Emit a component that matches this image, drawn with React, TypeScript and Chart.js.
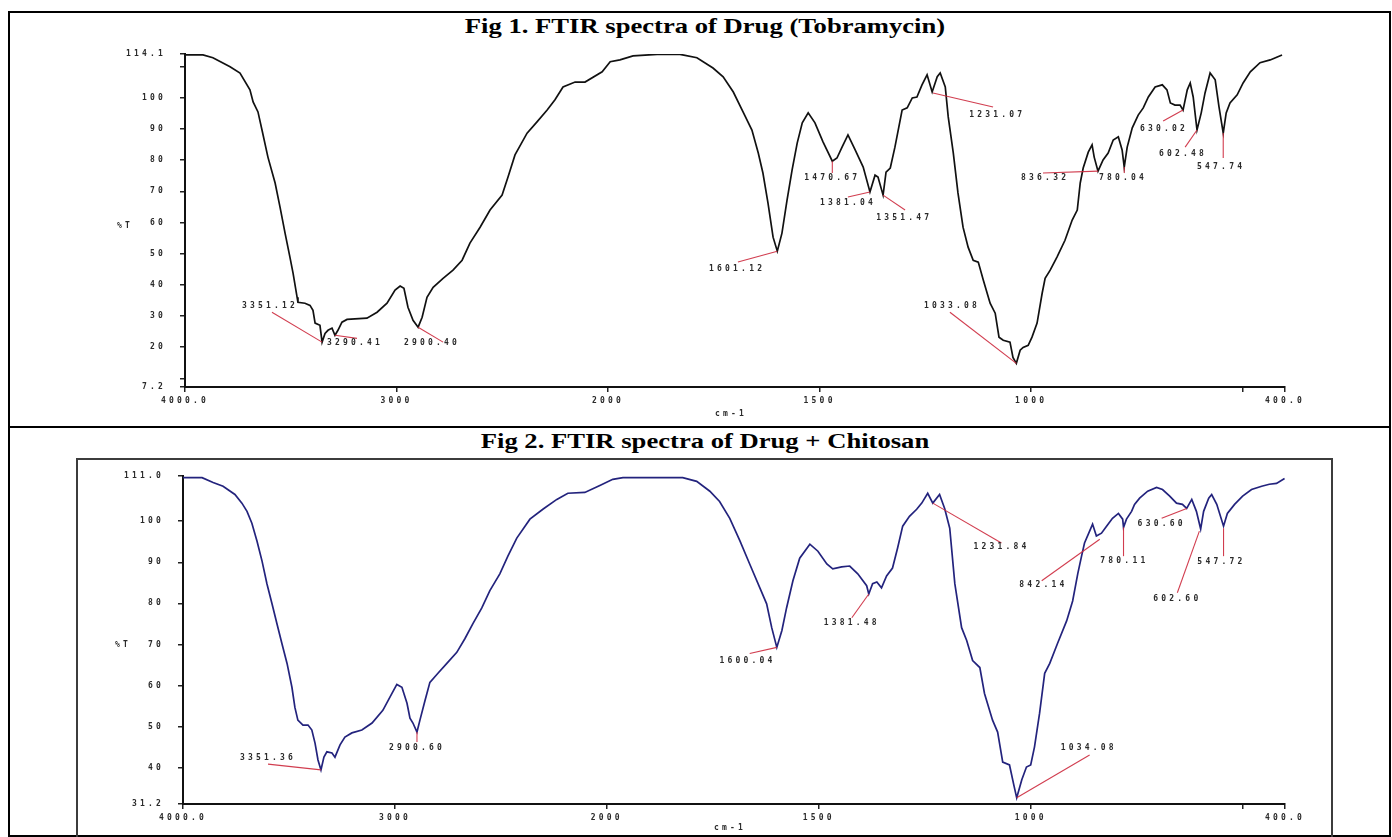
import React, { useEffect, useRef } from "react";
import { Chart, registerables } from "chart.js";

Chart.register(...registerables);

// ---------------- DATA ----------------
const fig1Wavenumber = [
  4000, 3915, 3868, 3787, 3740, 3693, 3678, 3655, 3636, 3608,
  3574, 3551, 3527, 3504, 3489, 3470, 3466, 3433, 3409, 3395,
  3385, 3362, 3352, 3338, 3324, 3305, 3291, 3277, 3258, 3234,
  3140, 3092, 3045, 3007, 2983, 2965, 2946, 2922, 2898, 2879,
  2856, 2827, 2780, 2733, 2690, 2653, 2605, 2558, 2501, 2473,
  2440, 2383, 2336, 2288, 2251, 2213, 2156, 2109, 2028, 1995,
  1972, 1941, 1884, 1830, 1790, 1752, 1728, 1704, 1681, 1660,
  1645, 1634, 1622, 1610, 1600, 1589, 1577, 1565, 1553, 1541,
  1527, 1511, 1492, 1470, 1459, 1447, 1433, 1416, 1397, 1381,
  1369, 1362, 1350, 1343, 1333, 1322, 1305, 1293, 1281, 1270,
  1258, 1246, 1234, 1222, 1215, 1203, 1196, 1184, 1173, 1161,
  1149, 1137, 1125, 1113, 1097, 1085, 1076, 1066, 1050, 1043,
  1035, 1026, 1019, 1007, 998, 986, 974, 967, 955, 939,
  920, 903, 891, 884, 877, 865, 856, 851, 842, 830,
  818, 806, 794, 785, 780, 773, 761, 747, 735, 723,
  707, 690, 679, 671, 660, 648, 641, 631, 624, 617,
  608, 598, 589, 577, 565, 556, 546, 539, 530, 513,
  499, 482, 459, 435, 407,
];
const fig1Transmittance = [
  113.8, 113.8, 112.9, 110.0, 108.0, 102.6, 98.7, 95.5, 89.7, 81.0,
  72.7, 65.0, 56.6, 48.9, 43.7, 36.0, 34.4, 34.1, 33.4, 31.8,
  27.7, 27.0, 21.6, 24.4, 25.4, 26.1, 23.8, 25.4, 28.0, 28.9,
  29.3, 31.2, 34.1, 38.3, 39.6, 38.9, 32.8, 28.6, 26.4, 29.6,
  36.0, 39.2, 42.1, 44.7, 47.9, 53.4, 58.5, 64.0, 68.8, 74.6,
  81.7, 88.7, 92.3, 96.1, 99.4, 103.5, 105.1, 105.1, 108.4, 111.6,
  112.2, 113.5, 114.0, 114.0, 112.9, 109.6, 106.8, 101.9, 95.5, 89.7,
  82.3, 75.9, 66.2, 55.3, 50.8, 56.6, 67.2, 76.9, 85.5, 92.0,
  95.2, 92.0, 85.9, 79.7, 80.7, 84.2, 88.1, 83.3, 77.8, 69.8,
  75.2, 74.6, 68.8, 76.2, 77.5, 84.2, 96.1, 96.8, 100.0, 100.3,
  104.2, 107.4, 101.9, 106.8, 108.0, 103.5, 93.9, 82.3, 69.5, 58.5,
  52.1, 47.9, 47.3, 41.5, 34.1, 30.9, 23.2, 22.2, 21.6, 16.7,
  14.8, 19.0, 19.9, 20.6, 23.2, 27.7, 37.3, 42.1, 44.7, 48.9,
  54.3, 60.8, 64.0, 72.7, 77.5, 82.6, 84.9, 81.0, 76.5, 80.1,
  82.3, 86.5, 87.5, 83.3, 77.8, 84.2, 90.4, 94.5, 96.8, 100.3,
  103.5, 104.2, 102.6, 98.4, 97.7, 97.7, 96.1, 102.6, 104.8, 100.3,
  89.7, 95.2, 101.6, 108.0, 105.8, 97.1, 88.7, 95.2, 98.4, 101.0,
  104.8, 108.4, 111.3, 112.2, 113.8,
];

const fig2Wavenumber = [
  4000, 3910, 3858, 3811, 3755, 3722, 3698, 3675, 3651, 3627,
  3604, 3580, 3557, 3533, 3509, 3486, 3472, 3458, 3434, 3410,
  3392, 3377, 3363, 3349, 3335, 3321, 3297, 3283, 3259, 3236,
  3203, 3156, 3108, 3057, 3014, 2991, 2967, 2943, 2929, 2915,
  2896, 2882, 2858, 2835, 2797, 2755, 2708, 2670, 2632, 2590,
  2552, 2505, 2467, 2425, 2363, 2302, 2236, 2184, 2104, 2033,
  1986, 1962, 1821, 1788, 1757, 1734, 1710, 1686, 1663, 1639,
  1623, 1611, 1599, 1587, 1576, 1561, 1545, 1521, 1502, 1481,
  1467, 1446, 1427, 1408, 1387, 1382, 1373, 1363, 1352, 1340,
  1326, 1314, 1302, 1286, 1269, 1257, 1243, 1231, 1215, 1203,
  1191, 1179, 1163, 1151, 1137, 1120, 1109, 1090, 1078, 1066,
  1050, 1040, 1033, 1021, 1010, 1000, 991, 979, 967, 955,
  937, 915, 901, 889, 880, 873, 861, 854, 845, 833,
  821, 807, 793, 783, 781, 774, 762, 755, 743, 724,
  703, 689, 672, 656, 642, 632, 620, 609, 599, 592,
  580, 573, 561, 545, 536, 519, 500, 479, 455, 437,
  420, 401,
];
const fig2Transmittance = [
  110.6, 110.6, 109.4, 108.5, 106.5, 104.4, 102.4, 99.5, 95.2, 90.3,
  84.8, 79.9, 75.1, 70.2, 65.4, 59.6, 54.7, 51.6, 50.4, 50.4,
  49.2, 46.0, 41.9, 39.5, 42.6, 43.9, 43.6, 42.6, 45.6, 47.5,
  48.5, 49.2, 50.9, 54.0, 58.1, 60.3, 59.6, 55.7, 52.1, 50.9,
  48.7, 51.6, 56.4, 60.8, 63.0, 65.4, 68.1, 71.4, 75.1, 78.9,
  83.1, 87.2, 91.5, 95.9, 100.5, 102.9, 105.3, 106.8, 107.0, 108.7,
  110.2, 110.6, 110.6, 109.7, 107.3, 104.8, 100.7, 95.2, 89.6, 83.8,
  79.9, 74.1, 69.3, 73.4, 78.9, 85.5, 91.0, 94.4, 92.7, 89.6,
  88.4, 88.9, 89.1, 87.2, 84.3, 82.3, 84.8, 85.2, 83.8, 86.7,
  88.6, 93.5, 98.8, 101.2, 102.9, 104.4, 106.8, 104.4, 106.5, 103.1,
  98.3, 84.8, 74.1, 71.0, 66.1, 64.4, 58.1, 51.6, 48.7, 41.4,
  40.7, 35.9, 32.7, 37.1, 40.2, 40.7, 45.1, 53.3, 63.0, 65.4,
  70.2, 75.8, 80.6, 87.2, 91.5, 94.7, 97.6, 99.3, 96.4, 97.1,
  98.8, 100.7, 101.9, 100.5, 98.5, 100.5, 102.4, 104.1, 105.6, 107.3,
  108.2, 107.7, 106.1, 104.4, 104.1, 103.1, 105.3, 102.4, 98.1, 102.4,
  105.6, 106.5, 104.1, 98.8, 101.9, 104.1, 106.1, 107.7, 108.5, 109.0,
  109.2, 110.4,
];

// x-axis ticks (wavenumber, cm-1)
const xTickWavenumbers = [4000, 3000, 2000, 1500, 1000, 500, 400];
const xTickLabels = ["4000.0", "3000", "2000", "1500", "1000", "", "400.0"];

// y-axis ticks (%T)
const fig1YTicks = [7.2, 10, 20, 30, 40, 50, 60, 70, 80, 90, 100, 110, 114.1];
const fig1YTickLabels = ["7.2", "", "20", "30", "40", "50", "60", "70", "80", "90", "100", "", "114.1"];
const fig2YTicks = [31.2, 40, 50, 60, 70, 80, 90, 100, 111.0];
const fig2YTickLabels = ["31.2", "40", "50", "60", "70", "80", "90", "100", "111.0"];

// peak annotations, figure 1
const fig1PeakLabels = ["3351.12", "3290.41", "2900.40", "1601.12", "1470.67", "1381.04", "1351.47", "1231.07", "1033.08", "836.32", "780.04", "630.02", "602.48", "547.74"];
const fig1PeakWn = [3352, 3291, 2898, 1600, 1470, 1381, 1350, 1232, 1035, 842, 780, 641, 608, 546];
const fig1PeakT = [21.6, 23.8, 26.4, 50.8, 79.7, 69.8, 68.8, 101.6, 14.8, 76.5, 77.8, 96.1, 89.7, 88.7];
const fig1LeadWn = [3589, 3187, 2780, 1693, 1470, 1433, 1298, 1090, 1192, 972, 780, 688, 636, 546];
const fig1LeadT = [31.2, 22.8, 21.6, 47.3, 75.9, 68.2, 64.0, 97.1, 31.2, 75.9, 75.9, 92.6, 84.2, 80.7];
const fig1TextWn = [3598, 3196, 2832, 1695, 1470, 1433, 1300, 1080, 1187, 967, 783, 686, 641, 551];
const fig1TextT = [33.1, 21.2, 21.2, 45.0, 74.3, 66.2, 61.4, 94.5, 33.1, 74.3, 74.3, 90.0, 82.0, 77.8];

// peak annotations, figure 2
const fig2PeakLabels = ["3351.36", "2900.60", "1600.04", "1381.48", "1231.84", "1034.08", "842.14", "780.11", "630.60", "602.60", "547.72"];
const fig2PeakWn = [3349, 2896, 1599, 1382, 1231, 1033, 837, 781, 632, 602, 545];
const fig2PeakT = [39.5, 48.7, 69.3, 82.3, 104.4, 32.7, 95.6, 98.5, 103.1, 97.6, 98.3];
const fig2LeadWn = [3599, 2896, 1663, 1422, 1069, 861, 974, 781, 691, 654, 545];
const fig2LeadT = [40.9, 46.3, 67.8, 76.5, 94.7, 43.1, 85.5, 91.5, 100.7, 82.6, 91.5];
const fig2TextWn = [3599, 2896, 1668, 1422, 1069, 863, 970, 779, 691, 654, 550];
const fig2TextT = [42.4, 44.8, 66.1, 75.3, 93.7, 44.8, 84.5, 90.3, 99.3, 81.1, 90.1];

// ---------------- HELPERS ----------------
// The wavenumber axis is compressed 2:1 above 2000 cm-1 (standard FTIR layout)
const toAxis = (wn: number) => (wn > 2000 ? 2000 + (wn - 2000) / 2 : wn);

const TICK_FONT = { family: "DejaVu Sans Mono", size: 8, weight: "bold" };
const SPACING = "3.2px";

type Cfg = {
  top: number;
  height: number;
  padTop: number;
  yWidth: number;
  xHeight: number;
  yMin: number;
  yMax: number;
  yTicks: number[];
  yLabels: string[];
  wn: number[];
  tr: number[];
  color: string;
  pLabels: string[];
  pWn: number[];
  pT: number[];
  lWn: number[];
  lT: number[];
  tWn: number[];
  tT: number[];
  unitOffset: number;
};

const spacingPlugin = {
  id: "letterSpacing",
  beforeDraw(chart: any) {
    chart.ctx.letterSpacing = SPACING;
  },
  afterDraw(chart: any) {
    chart.ctx.letterSpacing = "0px";
  },
};

function Spectrum({ cfg }: { cfg: Cfg }) {
  const ref = useRef<HTMLCanvasElement | null>(null);
  useEffect(() => {
    if (!ref.current) return;
    const annotate = {
      id: "peakAnnotations",
      afterDatasetsDraw(chart: any) {
        const ctx = chart.ctx;
        const xs = chart.scales.x;
        const ys = chart.scales.y;
        const area = chart.chartArea;
        ctx.save();
        ctx.strokeStyle = "rgba(204,40,60,0.9)";
        ctx.lineWidth = 1.1;
        for (let i = 0; i < cfg.pLabels.length; i++) {
          ctx.beginPath();
          ctx.moveTo(xs.getPixelForValue(toAxis(cfg.pWn[i])), ys.getPixelForValue(cfg.pT[i]));
          ctx.lineTo(xs.getPixelForValue(toAxis(cfg.lWn[i])), ys.getPixelForValue(cfg.lT[i]));
          ctx.stroke();
        }
        ctx.fillStyle = "#2a2a2a";
        ctx.font = 'bold 8px "DejaVu Sans Mono"';
        ctx.letterSpacing = SPACING;
        ctx.textAlign = "center";
        ctx.textBaseline = "middle";
        for (let i = 0; i < cfg.pLabels.length; i++) {
          ctx.fillText(
            cfg.pLabels[i],
            xs.getPixelForValue(toAxis(cfg.tWn[i])),
            ys.getPixelForValue(cfg.tT[i])
          );
        }
        ctx.fillText("%T", area.left - 60, (area.top + area.bottom) / 2 + 5);
        ctx.fillText("cm-1", (area.left + area.right) / 2 - 4, area.bottom + cfg.unitOffset);
        ctx.restore();
      },
    };

    const chart = new Chart(ref.current, {
      type: "line",
      data: {
        datasets: [
          {
            data: cfg.wn.map((w, i) => ({ x: toAxis(w), y: cfg.tr[i] })),
            borderColor: cfg.color,
            borderWidth: 1.7,
            pointRadius: 0,
            tension: 0,
            fill: false,
          },
        ],
      },
      options: {
        animation: false,
        responsive: false,
        events: [],
        plugins: {
          legend: { display: false },
          tooltip: { enabled: false },
          title: { display: false },
        },
        layout: { padding: { top: cfg.padTop, right: 1392 - 1285, left: 0, bottom: 0 } },
        scales: {
          x: {
            type: "linear",
            min: 400,
            max: 3000,
            reverse: true,
            afterBuildTicks: (s: any) => {
              s.ticks = xTickWavenumbers.map((w) => ({ value: toAxis(w) }));
            },
            afterFit: (s: any) => {
              s.height = cfg.xHeight;
            },
            ticks: {
              autoSkip: false,
              maxRotation: 0,
              minRotation: 0,
              padding: 4,
              color: "#2a2a2a",
              font: TICK_FONT,
              callback: (_v: any, i: number) => xTickLabels[i],
            },
            grid: { drawOnChartArea: false, drawTicks: true, tickLength: 5, color: "#222", lineWidth: 1.5 },
            border: { display: true, color: "#111", width: 2 },
          },
          y: {
            type: "linear",
            min: cfg.yMin,
            max: cfg.yMax,
            afterBuildTicks: (s: any) => {
              s.ticks = cfg.yTicks.map((v) => ({ value: v }));
            },
            afterFit: (s: any) => {
              s.width = cfg.yWidth;
            },
            ticks: {
              autoSkip: false,
              padding: 14,
              color: "#2a2a2a",
              font: TICK_FONT,
              callback: (_v: any, i: number) => cfg.yLabels[i],
            },
            grid: { drawOnChartArea: false, drawTicks: true, tickLength: 5, color: "#222", lineWidth: 1.5 },
            border: { display: true, color: "#111", width: 2 },
          },
        },
      } as any,
      plugins: [spacingPlugin, annotate],
    });
    return () => chart.destroy();
  }, []);
  return (
    <canvas
      ref={ref}
      width={1392}
      height={cfg.height}
      style={{ position: "absolute", left: 0, top: cfg.top, width: 1392, height: cfg.height }}
    />
  );
}

function Title({ top, text }: { top: number; text: string }) {
  return (
    <div
      style={{
        position: "absolute",
        left: 8.5,
        top,
        width: 1392,
        textAlign: "center",
        fontFamily: '"Liberation Serif", "Times New Roman", serif',
        fontWeight: "bold",
        fontSize: 22,
        lineHeight: "22px",
        whiteSpace: "nowrap",
        transform: "scaleX(1.21)",
        transformOrigin: "50% 50%",
        color: "#000",
      }}
    >
      {text}
    </div>
  );
}

const fig1Cfg: Cfg = {
  top: 0,
  height: 420,
  padTop: 54,
  yWidth: 185,
  xHeight: 420 - 387,
  yMin: 7.2,
  yMax: 114.1,
  yTicks: fig1YTicks,
  yLabels: fig1YTickLabels,
  wn: fig1Wavenumber,
  tr: fig1Transmittance,
  color: "#111",
  pLabels: fig1PeakLabels,
  pWn: fig1PeakWn,
  pT: fig1PeakT,
  lWn: fig1LeadWn,
  lT: fig1LeadT,
  tWn: fig1TextWn,
  tT: fig1TextT,
  unitOffset: 27,
};

const fig2Cfg: Cfg = {
  top: 420,
  height: 417,
  padTop: 476 - 420,
  yWidth: 183,
  xHeight: 837 - 804,
  yMin: 31.2,
  yMax: 111.0,
  yTicks: fig2YTicks,
  yLabels: fig2YTickLabels,
  wn: fig2Wavenumber,
  tr: fig2Transmittance,
  color: "#23237d",
  pLabels: fig2PeakLabels,
  pWn: fig2PeakWn,
  pT: fig2PeakT,
  lWn: fig2LeadWn,
  lT: fig2LeadT,
  tWn: fig2TextWn,
  tT: fig2TextT,
  unitOffset: 24,
};

export default function App() {
  return (
    <div
      style={{
        position: "fixed",
        left: 0,
        top: 0,
        width: 1392,
        height: 837,
        background: "#fff",
        overflow: "hidden",
      }}
    >
      <div
        style={{
          position: "absolute",
          left: 8,
          top: 11,
          width: 1383,
          height: 826,
          border: "2px solid #000",
          boxSizing: "border-box",
        }}
      />
      <div style={{ position: "absolute", left: 8, top: 426, width: 1383, height: 2, background: "#000" }} />
      <div
        style={{
          position: "absolute",
          left: 76,
          top: 458,
          width: 1257,
          height: 400,
          border: "2px solid #3c3c3c",
          boxSizing: "border-box",
        }}
      />
      <Title top={14.6} text="Fig 1. FTIR spectra of Drug (Tobramycin)" />
      <Title top={429.6} text="Fig 2. FTIR spectra of Drug + Chitosan" />
      <Spectrum cfg={fig1Cfg} />
      <Spectrum cfg={fig2Cfg} />
    </div>
  );
}
